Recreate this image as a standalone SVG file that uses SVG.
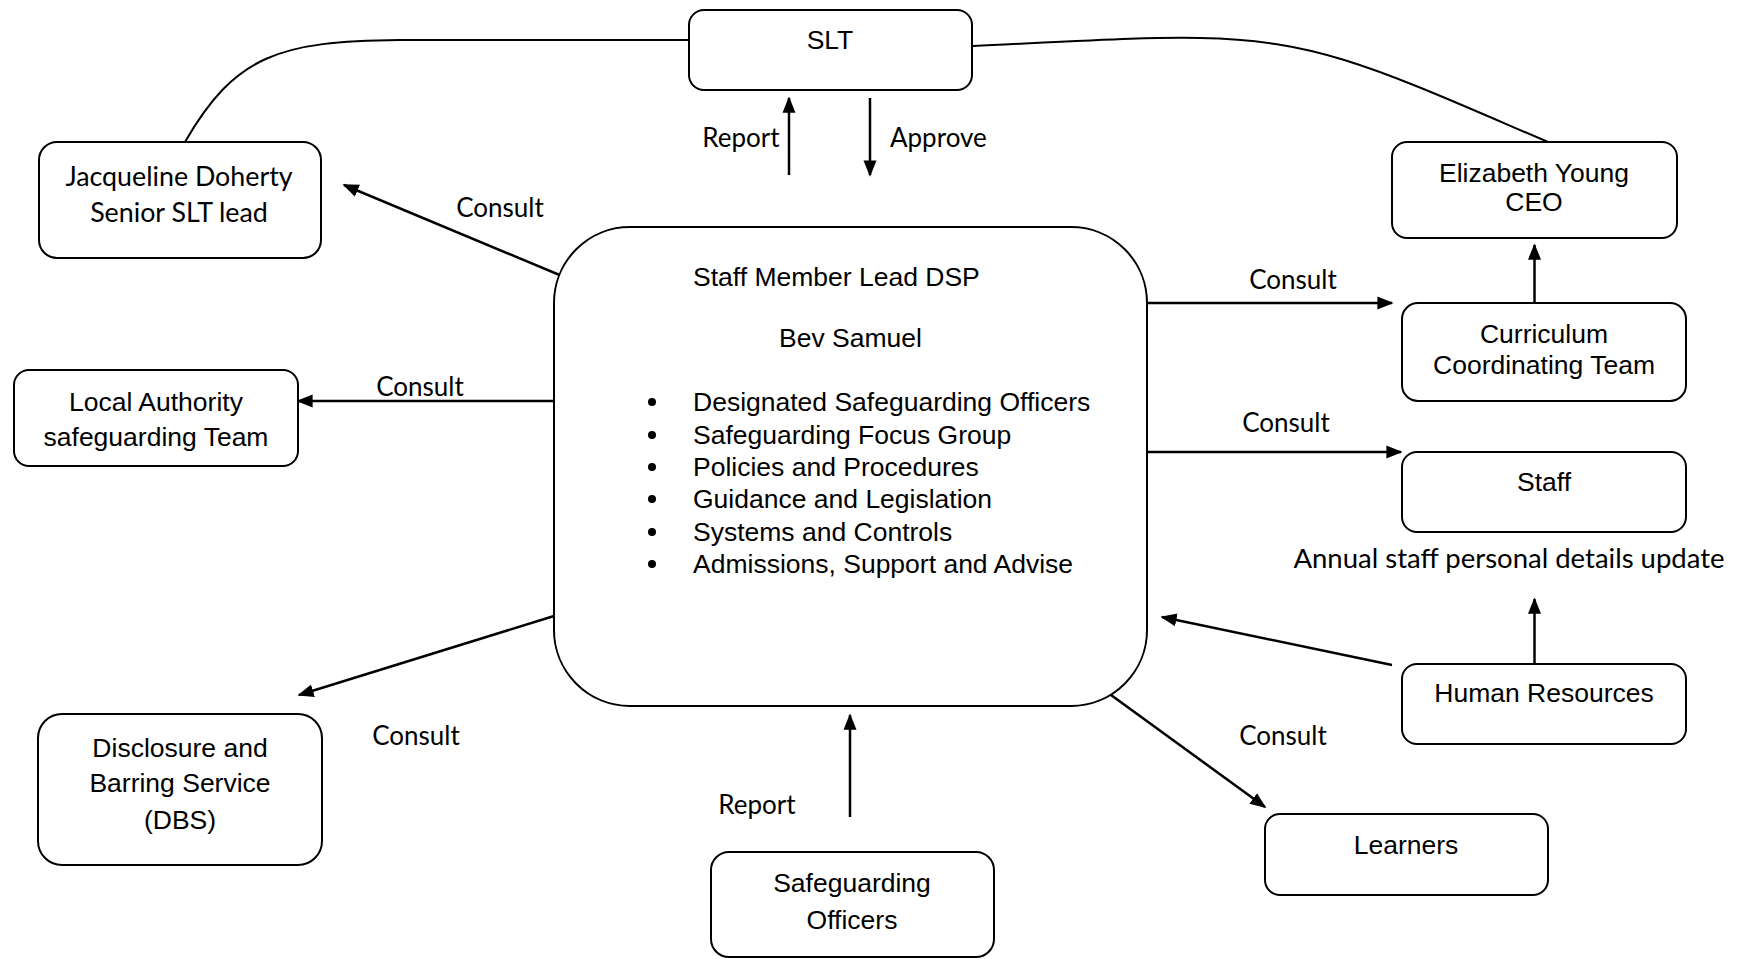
<svg xmlns="http://www.w3.org/2000/svg" width="1747" height="959" viewBox="0 0 1747 959">
<defs>
<marker id="ah" viewBox="0 0 10 10" refX="9" refY="5" markerWidth="6.5" markerHeight="6.5" markerUnits="strokeWidth" orient="auto">
<path d="M0,1 L10,5 L0,9 z" fill="#000"/>
</marker>
<style>
.box{fill:#fff;stroke:#000;stroke-width:2}
.a{font-family:"Liberation Sans",Arial,sans-serif;font-size:26.5px;fill:#000}
.c{font-family:Lato,"Open Sans",sans-serif;font-size:26px;fill:#000}
.m{text-anchor:middle}
.ln{fill:none;stroke:#000;stroke-width:2.5}
.cv{fill:none;stroke:#000;stroke-width:2}
</style>
</defs>
<rect width="1747" height="959" fill="#fff"/>

<g id="connectors">
<path class="cv" d="M185,142 C235,55 280,41 400,40 L689,40"/>
<path class="cv" d="M973,46 C1100,40 1150,37 1200,38 C1320,40 1380,70 1548,142"/>
<line class="ln" x1="789" y1="175" x2="789" y2="98" marker-end="url(#ah)"/>
<line class="ln" x1="870" y1="98" x2="870" y2="175" marker-end="url(#ah)"/>
<line class="ln" x1="562" y1="276" x2="344" y2="185" marker-end="url(#ah)"/>
<line class="ln" x1="554" y1="401" x2="298" y2="401" marker-end="url(#ah)"/>
<line class="ln" x1="554" y1="616" x2="299" y2="695" marker-end="url(#ah)"/>
<line class="ln" x1="850" y1="817" x2="850" y2="715" marker-end="url(#ah)"/>
<line class="ln" x1="1111" y1="695" x2="1265" y2="807" marker-end="url(#ah)"/>
<line class="ln" x1="1392" y1="665" x2="1162" y2="617" marker-end="url(#ah)"/>
<line class="ln" x1="1534.5" y1="663" x2="1534.5" y2="599" marker-end="url(#ah)"/>
<line class="ln" x1="1147" y1="303" x2="1392" y2="303" marker-end="url(#ah)"/>
<line class="ln" x1="1147" y1="452" x2="1401" y2="452" marker-end="url(#ah)"/>
<line class="ln" x1="1534.5" y1="302" x2="1534.5" y2="245" marker-end="url(#ah)"/>
<text class="c m" x="741" y="147">Report</text>
<text class="c" x="890" y="147">Approve</text>
<text class="c m" x="500" y="217">Consult</text>
<text class="c m" x="420" y="396">Consult</text>
<text class="c m" x="416" y="745">Consult</text>
<text class="c m" x="757" y="814">Report</text>
<text class="c m" x="1283" y="745">Consult</text>
<text class="c m" x="1293" y="289">Consult</text>
<text class="c m" x="1286" y="432">Consult</text>
<text class="c m" x="1509" y="568" style="font-size:27.5px">Annual staff personal details update</text>
</g>

<g id="slt">
<rect class="box" x="689" y="10" width="283" height="80" rx="15"/>
<text class="a m" x="830" y="49">SLT</text>
</g>

<g id="jacqueline">
<rect class="box" x="39" y="142" width="282" height="116" rx="18"/>
<text class="c m" x="179" y="186" style="font-size:26.8px">Jacqueline Doherty</text>
<text class="c m" x="179" y="222" style="font-size:26.8px">Senior SLT lead</text>
</g>

<g id="elizabeth">
<rect class="box" x="1392" y="142" width="285" height="96" rx="15"/>
<text class="a m" x="1534" y="182">Elizabeth Young</text>
<text class="a m" x="1534" y="211">CEO</text>
</g>

<g id="main">
<rect class="box" x="554" y="227" width="593" height="479" rx="76"/>
<text class="a" x="693" y="286">Staff Member Lead DSP</text>
<text class="a" x="779" y="347">Bev Samuel</text>
<g class="a">
<circle cx="652" cy="402" r="4"/>
<circle cx="652" cy="435" r="4"/>
<circle cx="652" cy="467" r="4"/>
<circle cx="652" cy="499" r="4"/>
<circle cx="652" cy="532" r="4"/>
<circle cx="652" cy="564" r="4"/>
<text x="693" y="411">Designated Safeguarding Officers</text>
<text x="693" y="444">Safeguarding Focus Group</text>
<text x="693" y="476">Policies and Procedures</text>
<text x="693" y="508">Guidance and Legislation</text>
<text x="693" y="541">Systems and Controls</text>
<text x="693" y="573">Admissions, Support and Advise</text>
</g>
</g>

<g id="local-authority">
<rect class="box" x="14" y="370" width="284" height="96" rx="15"/>
<text class="a m" x="156" y="411">Local Authority</text>
<text class="a m" x="156" y="446">safeguarding Team</text>
</g>

<g id="dbs">
<rect class="box" x="38" y="714" width="284" height="151" rx="24"/>
<text class="a m" x="180" y="757">Disclosure and</text>
<text class="a m" x="180" y="792">Barring Service</text>
<text class="a m" x="180" y="829">(DBS)</text>
</g>

<g id="safeguarding-officers">
<rect class="box" x="711" y="852" width="283" height="105" rx="18"/>
<text class="a m" x="852" y="892">Safeguarding</text>
<text class="a m" x="852" y="929">Officers</text>
</g>

<g id="learners">
<rect class="box" x="1265" y="814" width="283" height="81" rx="15"/>
<text class="a m" x="1406" y="854">Learners</text>
</g>

<g id="curriculum">
<rect class="box" x="1402" y="303" width="284" height="98" rx="16"/>
<text class="a m" x="1544" y="343">Curriculum</text>
<text class="a m" x="1544" y="374">Coordinating Team</text>
</g>

<g id="staff">
<rect class="box" x="1402" y="452" width="284" height="80" rx="15"/>
<text class="a m" x="1544" y="491">Staff</text>
</g>

<g id="hr">
<rect class="box" x="1402" y="664" width="284" height="80" rx="15"/>
<text class="a m" x="1544" y="702">Human Resources</text>
</g>
</svg>
